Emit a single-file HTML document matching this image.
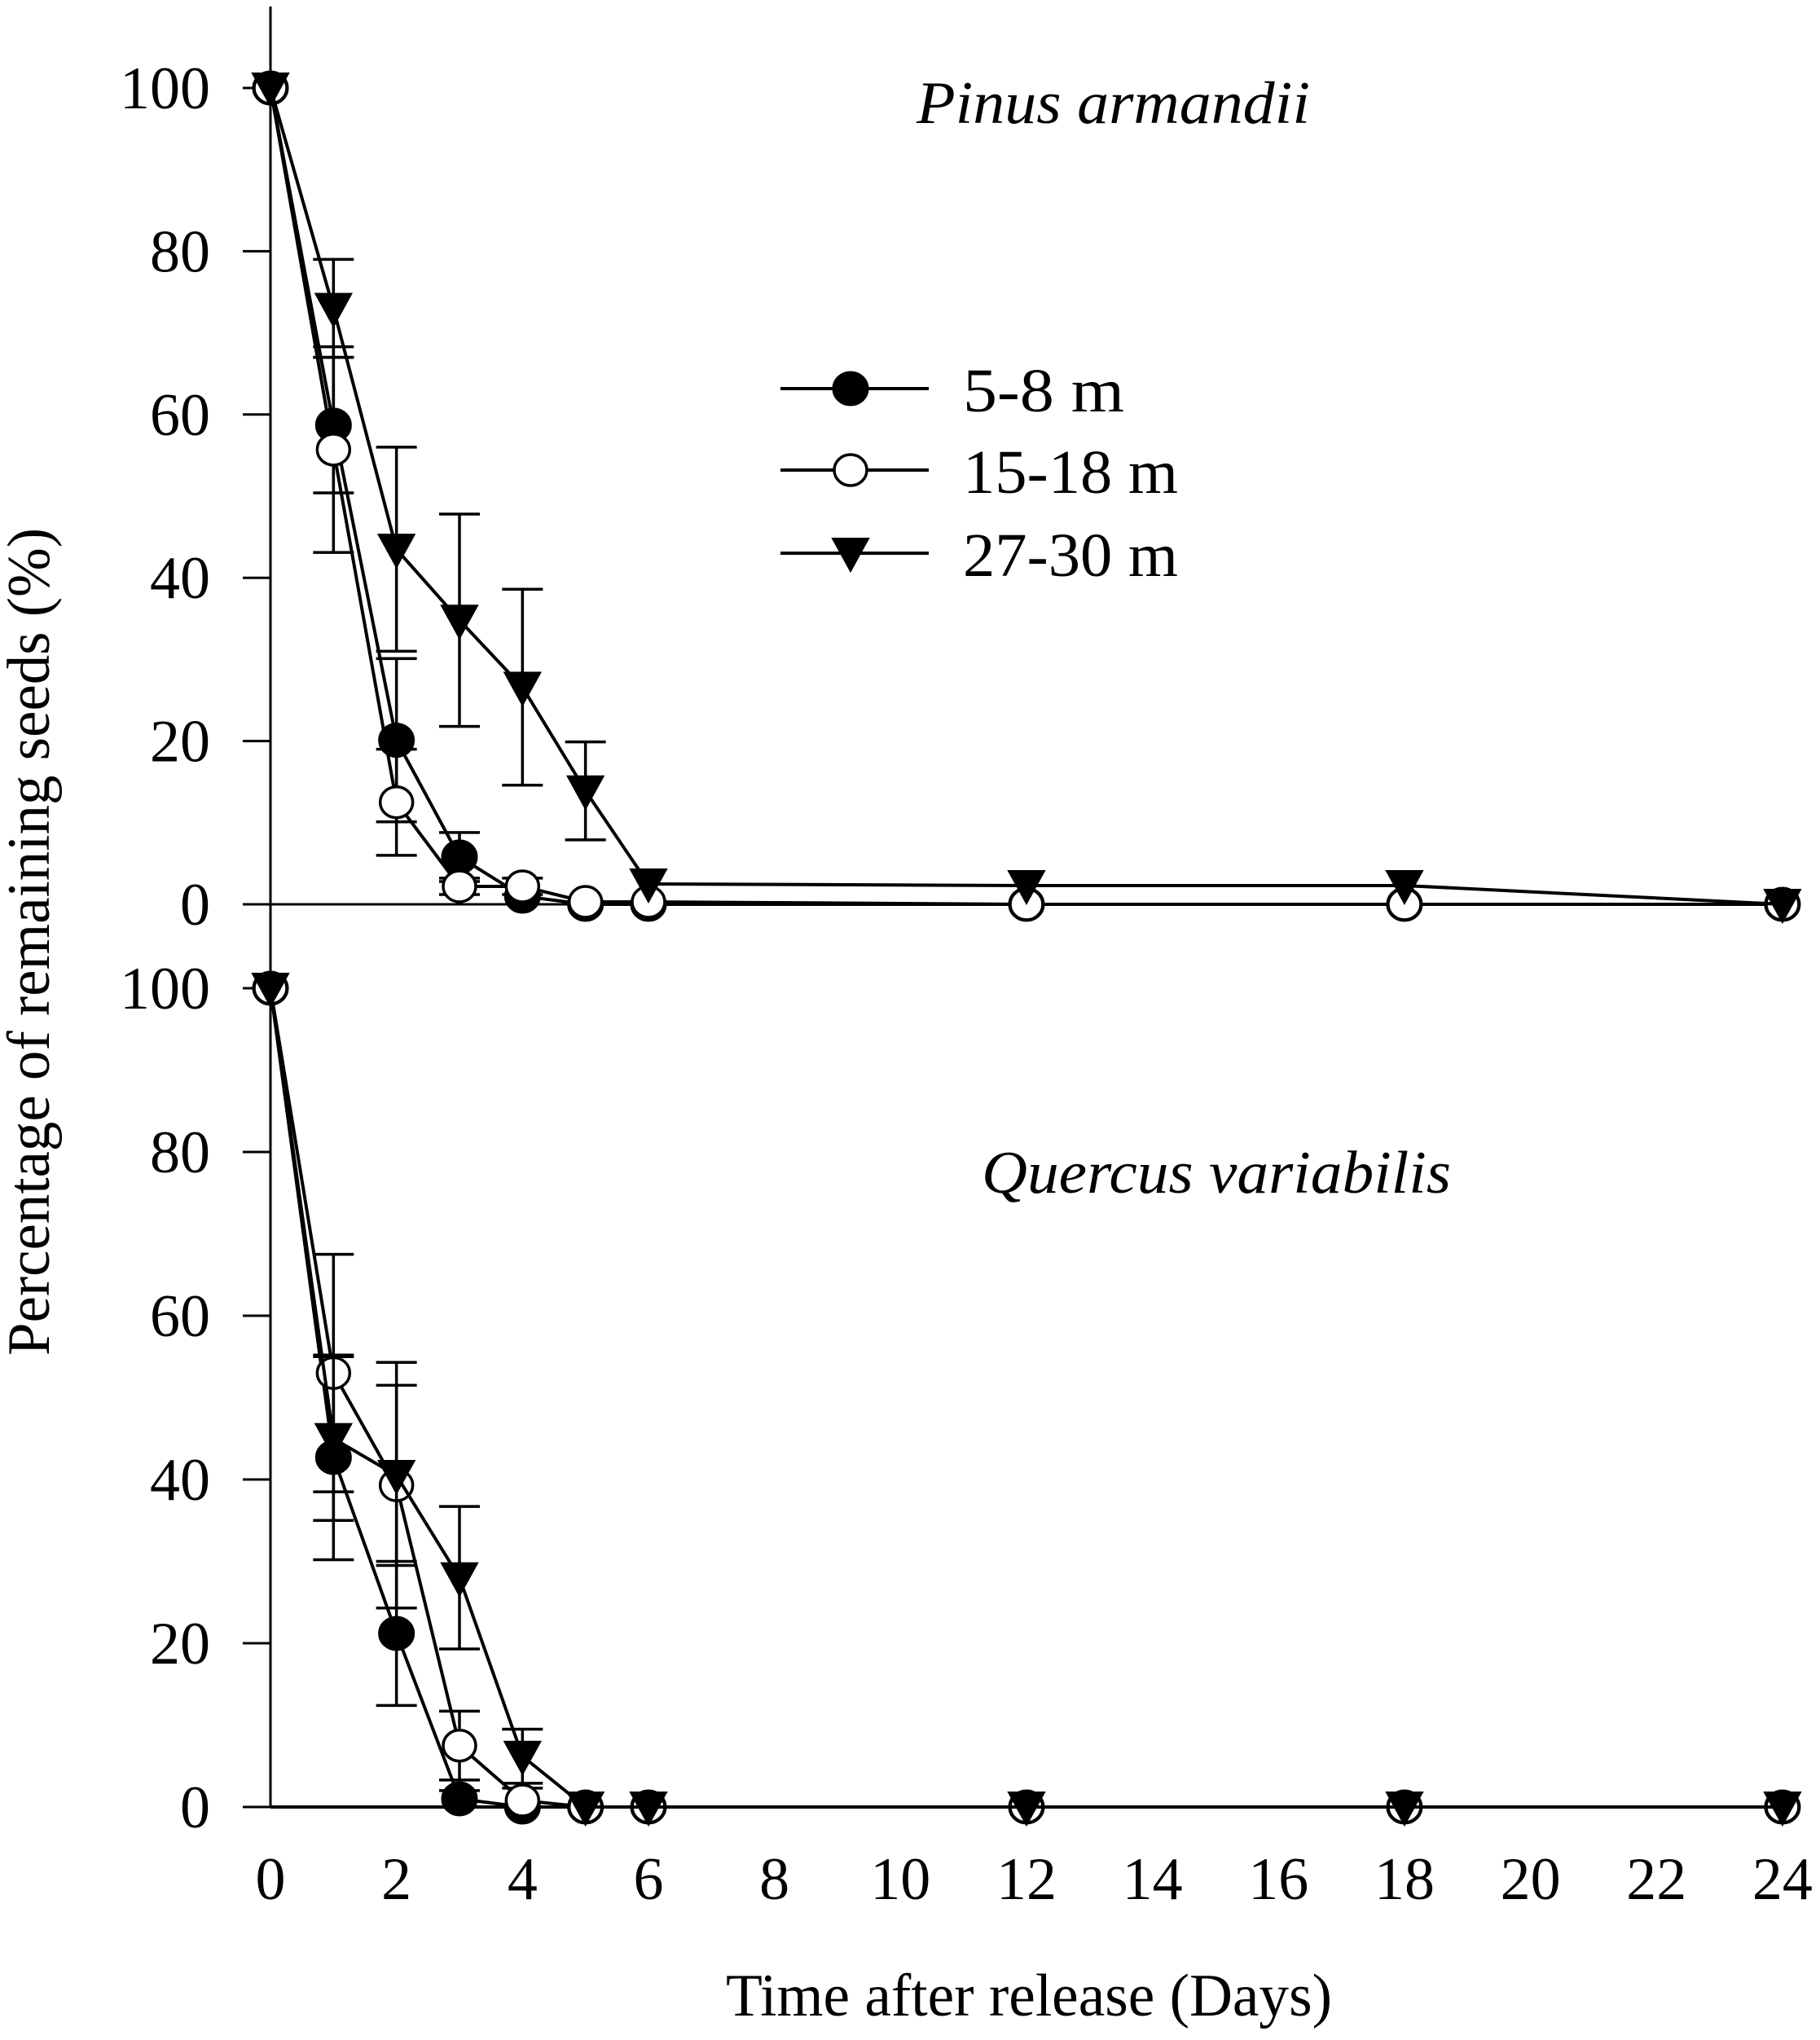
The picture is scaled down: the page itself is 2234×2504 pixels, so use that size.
<!DOCTYPE html>
<html><head><meta charset="utf-8">
<style>
html,body{margin:0;padding:0;background:#fff;}
svg{display:block;font-family:"Liberation Serif","Times New Roman",serif;}
</style></head>
<body>
<svg id="chart" width="2234" height="2504" viewBox="0 0 2234 2504" xmlns="http://www.w3.org/2000/svg">
  <text transform="translate(60,1156) rotate(-90)" text-anchor="middle" font-size="74" textLength="1016" lengthAdjust="spacingAndGlyphs">Percentage of remaining seeds (%)</text>
  <text x="1263" y="2474" text-anchor="middle" font-size="74" textLength="744" lengthAdjust="spacingAndGlyphs">Time after release (Days)</text>
  <text x="1125" y="151" font-size="74" font-style="italic" textLength="483" lengthAdjust="spacingAndGlyphs">Pinus armandii</text>
  <text x="1205" y="1464" font-size="74" font-style="italic" textLength="576" lengthAdjust="spacingAndGlyphs">Quercus variabilis</text>
  <g id="plots"></g>
  <g id="legend"></g>
</svg>
<script>
const days = [0,1,2,3,4,5,6,12,18,24];
const xTicks = [0,2,4,6,8,10,12,14,16,18,20,22,24];
const yTicks = [0,20,40,60,80,100];
const seriesNames = ["5-8 m","15-18 m","27-30 m"];
// Pinus armandii
const pinusNear = [100,58.7,20.1,5.8,1,0,0,0,0,0];
const pinusNearErr = [0,8.3,10,3,0,0,0,0,0,0];
const pinusMid = [100,55.7,12.5,2.2,2.2,0.3,0.3,0,0,0];
const pinusMidErr = [0,12.6,6.5,1,1,0,0,0,0,0];
const pinusFar = [100,73,43.5,34.8,26.6,13.9,2.5,2.3,2.3,0];
const pinusFarErr = [0,6,12.5,13,12,6,0,0,0,0];
// Quercus variabilis
const quercusNear = [100,42.7,21.2,1,0,0,0,0,0,0];
const quercusNearErr = [0,12.5,8.8,1,0,0,0,0,0,0];
const quercusMid = [100,53,39.3,7.5,0.8,0,0,0,0,0];
const quercusMidErr = [0,14.5,15,4.2,1.5,0,0,0,0,0];
const quercusFar = [100,45,40.5,28,6.2,0,0,0,0,0];
const quercusFarErr = [0,10,11,8.7,3.3,0,0,0,0,0];

const NS="http://www.w3.org/2000/svg";
const X0=332, PX_PER_DAY=77.33;
function xs(d){return X0+d*PX_PER_DAY;}
function mk(tag,attrs,parent){const e=document.createElementNS(NS,tag);for(const k in attrs)e.setAttribute(k,attrs[k]);parent.appendChild(e);return e;}
const plots=document.getElementById('plots');

const va=mk('line',{x1:X0,y1:8,x2:X0,y2:2218,stroke:'#000','stroke-width':3},plots);



function marker(type,cx,cy,g){
  let m;
  if(type===0){m=mk('ellipse',{cx:cx,cy:cy,rx:21,ry:20,fill:'#000',stroke:'#000','stroke-width':3},g);}
  else if(type===1){m=mk('ellipse',{cx:cx,cy:cy,rx:20,ry:19,fill:'#fff',stroke:'#000','stroke-width':3.5},g);}
  else{m=mk('polygon',{points:`${cx-22},${cy-18} ${cx+22},${cy-18} ${cx},${cy+22}`,fill:'#000',stroke:'#000','stroke-width':2},g);}
  return m;
}

function panel(name,y0,yTop,sets,thinAxis){
  const ys=v=>y0-(v/100)*(y0-yTop);
  const g=mk('g',{},plots);
  
  
  const xa=mk('line',{x1:thinAxis?298:X0,y1:y0,x2:2205,y2:y0,stroke:'#000','stroke-width':thinAxis?3:4},g);
  
  
  yTicks.forEach(t=>{
    const tk=mk('line',{x1:298,y1:ys(t),x2:X0,y2:ys(t),stroke:'#000','stroke-width':3},g);
    
    
    const tl=mk('text',{x:258,y:ys(t)+25,'text-anchor':'end','font-size':74},g);
    
    
    tl.textContent=t;
  });
  sets.forEach((s,si)=>{
    const sg=mk('g',{},g);
    
    
    s.err.forEach((e,i)=>{
      if(e<=0)return;
      const x=xs(days[i]);
      const eb=mk('path',{d:`M${x},${ys(s.vals[i]+e)}V${ys(Math.max(0,s.vals[i]-e))}M${x-25},${ys(s.vals[i]+e)}h50M${x-25},${ys(Math.max(0,s.vals[i]-e))}h50`,stroke:'#000','stroke-width':3.5,fill:'none'},sg);
      
      
    });
    const pts=s.vals.map((v,i)=>xs(days[i])+','+ys(v)).join(' ');
    const ln=mk('polyline',{points:pts,fill:'none',stroke:'#000','stroke-width':4},sg);
    
    
    s.vals.forEach((v,i)=>{
      const m=marker(si,xs(days[i]),ys(v),sg);
      
      
    });
  });
}

panel('panel-pinus-armandii',1110,108,[
  {vals:pinusNear,err:pinusNearErr},{vals:pinusMid,err:pinusMidErr},{vals:pinusFar,err:pinusFarErr}],true);
panel('panel-quercus-variabilis',2218,1213,[
  {vals:quercusNear,err:quercusNearErr},{vals:quercusMid,err:quercusMidErr},{vals:quercusFar,err:quercusFarErr}],false);

xTicks.forEach(t=>{
  const tl=mk('text',{x:xs(t),y:2331,'text-anchor':'middle','font-size':74},plots);
  
  
  tl.textContent=t;
});

const leg=document.getElementById('legend');
const legY=[477,577,679];
const legW=[198,264,264];
seriesNames.forEach((n,i)=>{
  const eg=mk('g',{},leg);
  
  
  mk('line',{x1:958,y1:legY[i],x2:1140,y2:legY[i],stroke:'#000','stroke-width':4},eg);
  marker(i,1044,legY[i],eg);
  const t=mk('text',{x:1182,y:legY[i]+28,'font-size':76,textLength:legW[i],lengthAdjust:'spacingAndGlyphs'},eg);
  t.textContent=n;
});
</script>
</body></html>
